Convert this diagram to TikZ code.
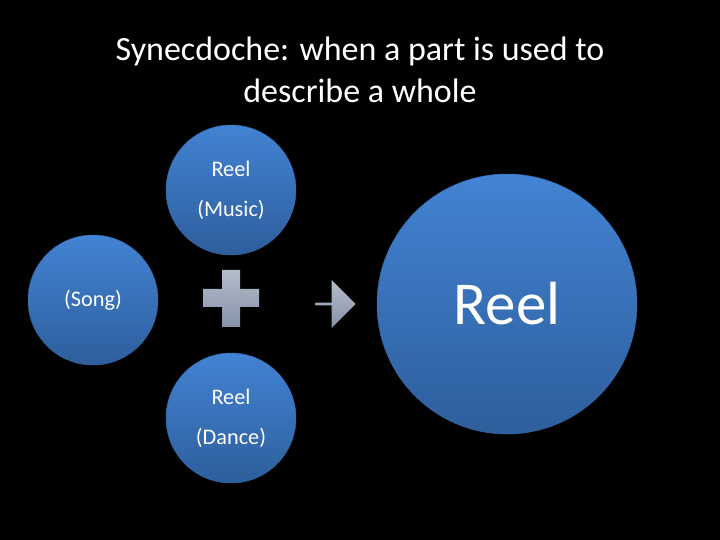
\documentclass[tikz,border=0pt]{standalone}
\usepackage{fontspec}
\setmainfont{Carlito}
\usetikzlibrary{positioning,shapes.arrows}
\definecolor{disctop}{HTML}{4283D3}
\definecolor{discbot}{HTML}{2E5E9C}
\definecolor{signtop}{HTML}{B4BCCB}
\definecolor{signbot}{HTML}{8592A8}
\begin{document}
\begin{tikzpicture}[x=0.03cm,y=-0.03cm,
  disc/.style={circle, draw=disctop!80!black, top color=disctop, bottom color=discbot,
    text=white, align=center, inner sep=0pt},
  sign/.style={top color=signtop, bottom color=signbot, draw=none}
]
\fill[black] (0,0) rectangle (720,540);

\node[text=white, align=center, font=\fontsize{29}{36}\selectfont] (title) at (360,70)
  {Synecdoche: when a part is used to\\describe a whole};

\node[disc, minimum size=3.9cm, font=\fontsize{19}{34}\selectfont] (music) at (231,190) {Reel\\(Music)};
\node[disc, minimum size=3.9cm, font=\fontsize{19}{34}\selectfont] (song) at (93,300) {(Song)};
\node[disc, minimum size=3.9cm, font=\fontsize{19}{34}\selectfont] (dance) at (231,418) {Reel\\(Dance)};
\node[disc, minimum size=7.8cm, font=\fontsize{52}{60}\selectfont] (reel) at (507,304) {Reel};

% plus sign
\path[sign] (222,270) -- (240,270) -- (240,289) -- (259,289) -- (259,307) -- (240,307)
  -- (240,327) -- (222,327) -- (222,307) -- (203,307) -- (203,289) -- (222,289) -- cycle;
% arrow
\node[sign, single arrow, minimum height=1.2cm, minimum width=1.45cm,
  single arrow head extend=0.12cm, inner sep=0pt] (arrow) at (335,304) {};
\end{tikzpicture}
\end{document}
